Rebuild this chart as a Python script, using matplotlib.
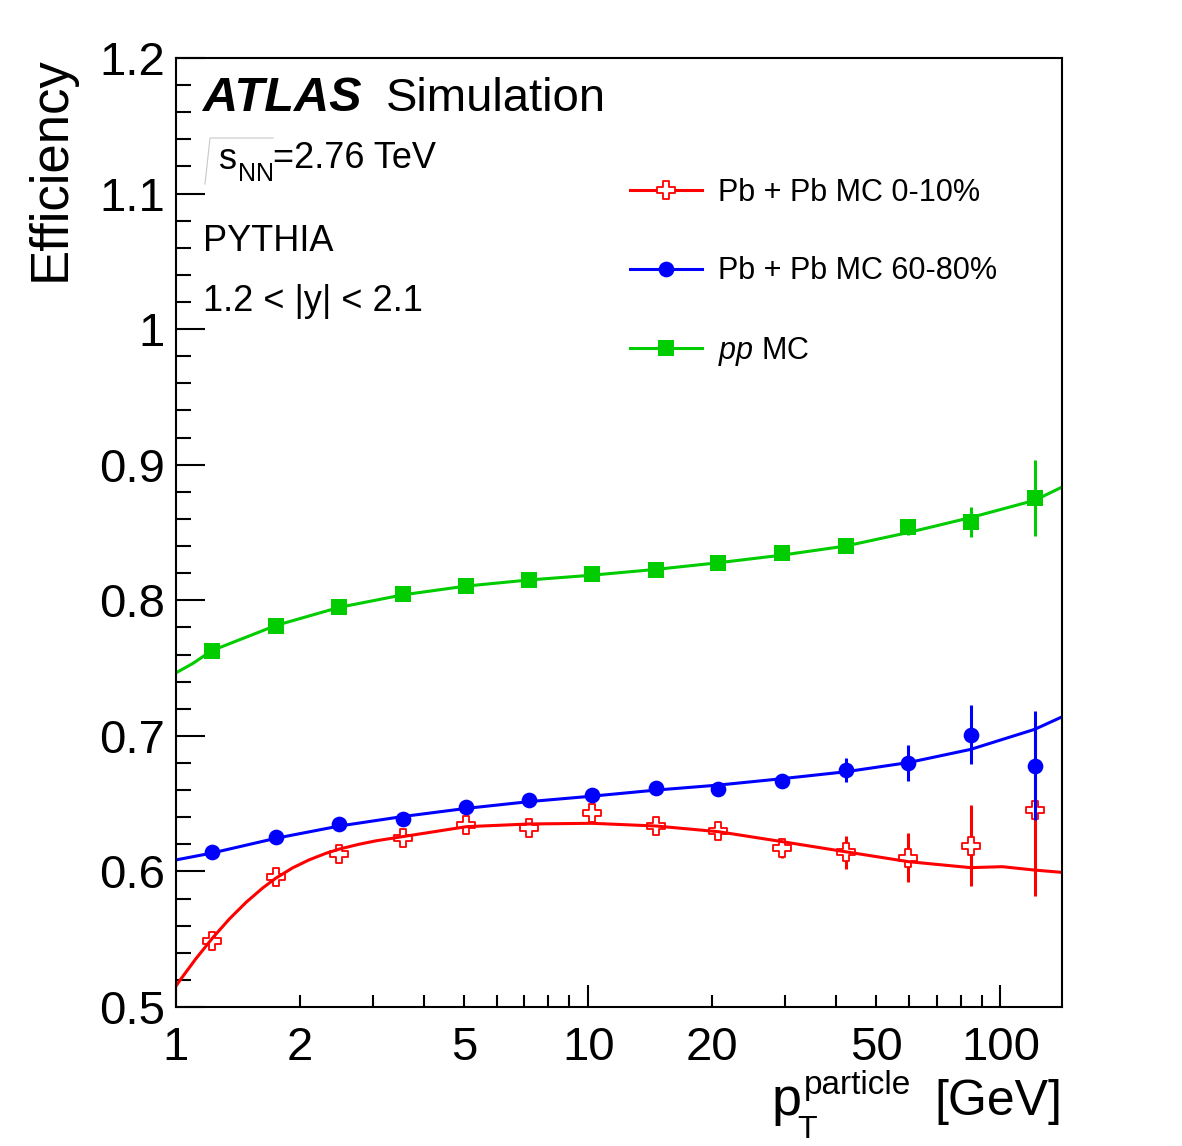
import numpy as np
import matplotlib
matplotlib.use("Agg")
import matplotlib.pyplot as plt
from matplotlib.path import Path
from matplotlib.lines import Line2D
from matplotlib.ticker import FixedLocator, MultipleLocator, FuncFormatter

# ---------------- data ----------------
pt_bins = [1.22, 1.75, 2.49, 3.55, 5.06, 7.19, 10.2, 14.6, 20.7, 29.5, 42.1, 59.8, 84.6, 121]

eff_pbpb_0_10 = [0.549, 0.596, 0.613, 0.625, 0.634, 0.632, 0.643, 0.6335, 0.630, 0.617, 0.614, 0.610, 0.619, 0.645]
err_pbpb_0_10 = [0.003, 0.003, 0.003, 0.003, 0.004, 0.004, 0.004, 0.004, 0.005, 0.007, 0.012, 0.018, 0.030, 0.063]

eff_pbpb_60_80 = [0.614, 0.6256, 0.6352, 0.6386, 0.6477, 0.6524, 0.6563, 0.6613, 0.6608, 0.6667, 0.6748, 0.680, 0.701, 0.678]
err_pbpb_60_80 = [0.002, 0.002, 0.002, 0.002, 0.002, 0.002, 0.003, 0.003, 0.003, 0.005, 0.009, 0.013, 0.022, 0.040]

eff_pp = [0.7628, 0.7812, 0.7948, 0.8043, 0.8107, 0.8149, 0.8193, 0.8223, 0.8272, 0.8346, 0.840, 0.854, 0.858, 0.8754]
err_pp = [0.002, 0.002, 0.002, 0.002, 0.002, 0.002, 0.002, 0.002, 0.002, 0.003, 0.004, 0.006, 0.011, 0.028]

# fit curves
fit_pt_red = [1.0, 1.028, 1.118, 1.228, 1.347, 1.479, 1.623, 1.748, 1.920, 2.106, 2.312, 2.491, 2.786, 3.058,
              3.55, 5.06, 7.19, 10.2, 14.6, 20.7, 29.5, 42.1, 59.8, 84.6, 101, 121, 141]
fit_red = [0.5155, 0.5207, 0.5357, 0.5511, 0.5649, 0.5772, 0.5878, 0.5951, 0.6027, 0.6086, 0.6134, 0.6165,
           0.6201, 0.6226, 0.6257, 0.633, 0.635, 0.6355, 0.6335, 0.6293, 0.622, 0.6145, 0.6072, 0.6028,
           0.6035, 0.601, 0.5993]

fit_pt_blue = [1.0, 1.22, 1.75, 2.49, 3.55, 5.06, 7.19, 10.2, 14.6, 20.7, 29.5, 42.1, 59.8, 84.6, 121, 141]
fit_blue = [0.6085, 0.6135, 0.6245, 0.6335, 0.6405, 0.6465, 0.6515, 0.6555, 0.660, 0.6637, 0.6684, 0.6735,
            0.6803, 0.690, 0.7048, 0.714]

fit_pt_green = [1.0, 1.1, 1.22, 1.75, 2.49, 3.55, 5.06, 7.19, 10.2, 14.6, 20.7, 29.5, 42.1, 59.8, 84.6, 121, 141]
fit_green = [0.7465, 0.7535, 0.7628, 0.7815, 0.7948, 0.804, 0.8105, 0.815, 0.8185, 0.8228, 0.8277, 0.8333,
             0.840, 0.8500, 0.861, 0.8737, 0.8835]

legend_labels = ["Pb + Pb MC 0-10%", "Pb + Pb MC 60-80%", r"$\mathit{pp}$ MC"]
x_major = [1, 10, 100]
x_minor = [2, 3, 4, 5, 6, 7, 8, 9, 20, 30, 40, 50, 60, 70, 80, 90]
x_minor_labeled = [2, 5, 20, 50]

# ---------------- style ----------------
plt.rcParams["font.family"] = ["Liberation Sans", "DejaVu Sans"]
plt.rcParams["mathtext.fontset"] = "custom"
plt.rcParams["mathtext.rm"] = "Liberation Sans"
plt.rcParams["mathtext.it"] = "Liberation Sans:italic"
plt.rcParams["mathtext.bf"] = "Liberation Sans:bold"

RED = "#ff0000"
BLUE = "#0000ff"
GREEN = "#00cc00"

W, H = 1182, 1146
fig = plt.figure(figsize=(W / 100, H / 100), dpi=100)
ax = fig.add_axes([176 / W, 1 - 1007 / H, (1062 - 176) / W, (1007 - 58) / H])

ax.set_xscale("log")
ax.set_xlim(1, 141)
ax.set_ylim(0.5, 1.2)

# open cross marker
w = 0.33
cross_verts = [(-w, 1), (w, 1), (w, w), (1, w), (1, -w), (w, -w), (w, -1), (-w, -1),
               (-w, -w), (-1, -w), (-1, w), (-w, w), (-w, 1)]
cross_codes = [Path.MOVETO] + [Path.LINETO] * 11 + [Path.CLOSEPOLY]
open_cross = Path(cross_verts, cross_codes)

lw = 2.2
# red: error bars, then hollow crosses (white inside)
ax.errorbar(pt_bins, eff_pbpb_0_10, yerr=err_pbpb_0_10, fmt="none", ecolor=RED, elinewidth=lw, capsize=0, zorder=3)
ax.plot(pt_bins, eff_pbpb_0_10, ls="none", marker=open_cross, ms=13.5, mfc="white", mec=RED, mew=1.3, zorder=3.5)

# fit curves
ax.plot(fit_pt_green, fit_green, color=GREEN, lw=lw, zorder=4, solid_joinstyle="round", solid_capstyle="butt")
ax.plot(fit_pt_blue, fit_blue, color=BLUE, lw=lw, zorder=4, solid_joinstyle="round", solid_capstyle="butt")
ax.plot(fit_pt_red, fit_red, color=RED, lw=lw, zorder=4, solid_joinstyle="round", solid_capstyle="butt")

# blue and green
ax.errorbar(pt_bins, eff_pbpb_60_80, yerr=err_pbpb_60_80, fmt="none", ecolor=BLUE, elinewidth=lw, capsize=0, zorder=4.5)
ax.plot(pt_bins, eff_pbpb_60_80, ls="none", marker="o", ms=11.3, mfc=BLUE, mec=BLUE, mew=0, zorder=5)
ax.errorbar(pt_bins, eff_pp, yerr=err_pp, fmt="none", ecolor=GREEN, elinewidth=lw, capsize=0, zorder=4.5)
ax.plot(pt_bins, eff_pp, ls="none", marker="s", ms=11.3, mfc=GREEN, mec=GREEN, mew=0, zorder=5)

# axes styling
for s in ax.spines.values():
    s.set_linewidth(1.5)
    s.set_zorder(6)

ax.yaxis.set_major_locator(MultipleLocator(0.1))
ax.yaxis.set_minor_locator(MultipleLocator(0.02))
ax.yaxis.set_major_formatter(FuncFormatter(lambda v, p: format(round(v, 2), "g")))
ax.xaxis.set_major_locator(FixedLocator(x_major))
ax.xaxis.set_minor_locator(FixedLocator(x_minor))
ax.xaxis.set_major_formatter(FuncFormatter(lambda v, p: format(v, "g")))
ax.xaxis.set_minor_formatter(FuncFormatter(lambda v, p: format(v, "g") if round(v) in x_minor_labeled else ""))

ax.tick_params(axis="y", which="major", direction="in", length=21, width=1.5, labelsize=34, pad=8,
               right=False, left=True)
ax.tick_params(axis="y", which="minor", direction="in", length=10.8, width=1.5, right=False, left=True)
ax.tick_params(axis="x", which="major", direction="in", length=16, width=1.5, labelsize=34, pad=14,
               top=False, bottom=True)
ax.tick_params(axis="x", which="minor", direction="in", length=8.6, width=1.5, labelsize=34, pad=14,
               top=False, bottom=True)

# y axis title
fig.text(51 / W, 1 - 56 / H, "Efficiency", rotation=90, ha="center", va="top", fontsize=38)

# x axis title: p_T^particle [GeV]
fig.text(1062 / W, 1 - 1115 / H, "[GeV]", ha="right", va="baseline", fontsize=36)
fig.text(772 / W, 1 - 1115 / H, "p", ha="left", va="baseline", fontsize=39)
fig.text(804 / W, 1 - 1094 / H, "particle", ha="left", va="baseline", fontsize=24)
fig.text(797 / W, 1 - 1138 / H, "T", ha="left", va="baseline", fontsize=23)

# annotations
fig.text(203 / W, 1 - 111 / H, "ATLAS", fontsize=35, fontweight="bold", fontstyle="italic",
         ha="left", va="baseline")
fig.text(386 / W, 1 - 111 / H, "Simulation", fontsize=34, ha="left", va="baseline")

# sqrt(s_NN) = 2.76 TeV
fig.add_artist(Line2D([205 / W, 210 / W, 273 / W], [1 - 184 / H, 1 - 138 / H, 1 - 138 / H],
                      color="#c8c8c8", lw=0.8, transform=fig.transFigure))
fig.text(219 / W, 1 - 169 / H, "s", fontsize=26, ha="left", va="baseline")
fig.text(238 / W, 1 - 181 / H, "NN", fontsize=18, ha="left", va="baseline")
fig.text(273 / W, 1 - 168 / H, "=2.76 TeV", fontsize=26, ha="left", va="baseline")

fig.text(203 / W, 1 - 251 / H, "PYTHIA", fontsize=26, ha="left", va="baseline")
fig.text(203 / W, 1 - 311 / H, "1.2 < |y| < 2.1", fontsize=26, ha="left", va="baseline")

# legend
handles = [
    Line2D([], [], color=RED, lw=lw, marker=open_cross, ms=13.5, mfc="white", mec=RED, mew=1.3),
    Line2D([], [], color=BLUE, lw=lw, marker="o", ms=11.3, mfc=BLUE, mec=BLUE, mew=0),
    Line2D([], [], color=GREEN, lw=lw, marker="s", ms=11.3, mfc=GREEN, mec=GREEN, mew=0),
]
ax.legend(handles, legend_labels, loc="upper left", bbox_to_anchor=(630 / W, 1 - 178 / H),
          bbox_transform=fig.transFigure, frameon=False, fontsize=22, numpoints=1,
          handlelength=2.35, handletextpad=0.52, labelspacing=1.58, borderpad=0, borderaxespad=0)

fig.savefig("out.png", dpi=100, facecolor="white")
